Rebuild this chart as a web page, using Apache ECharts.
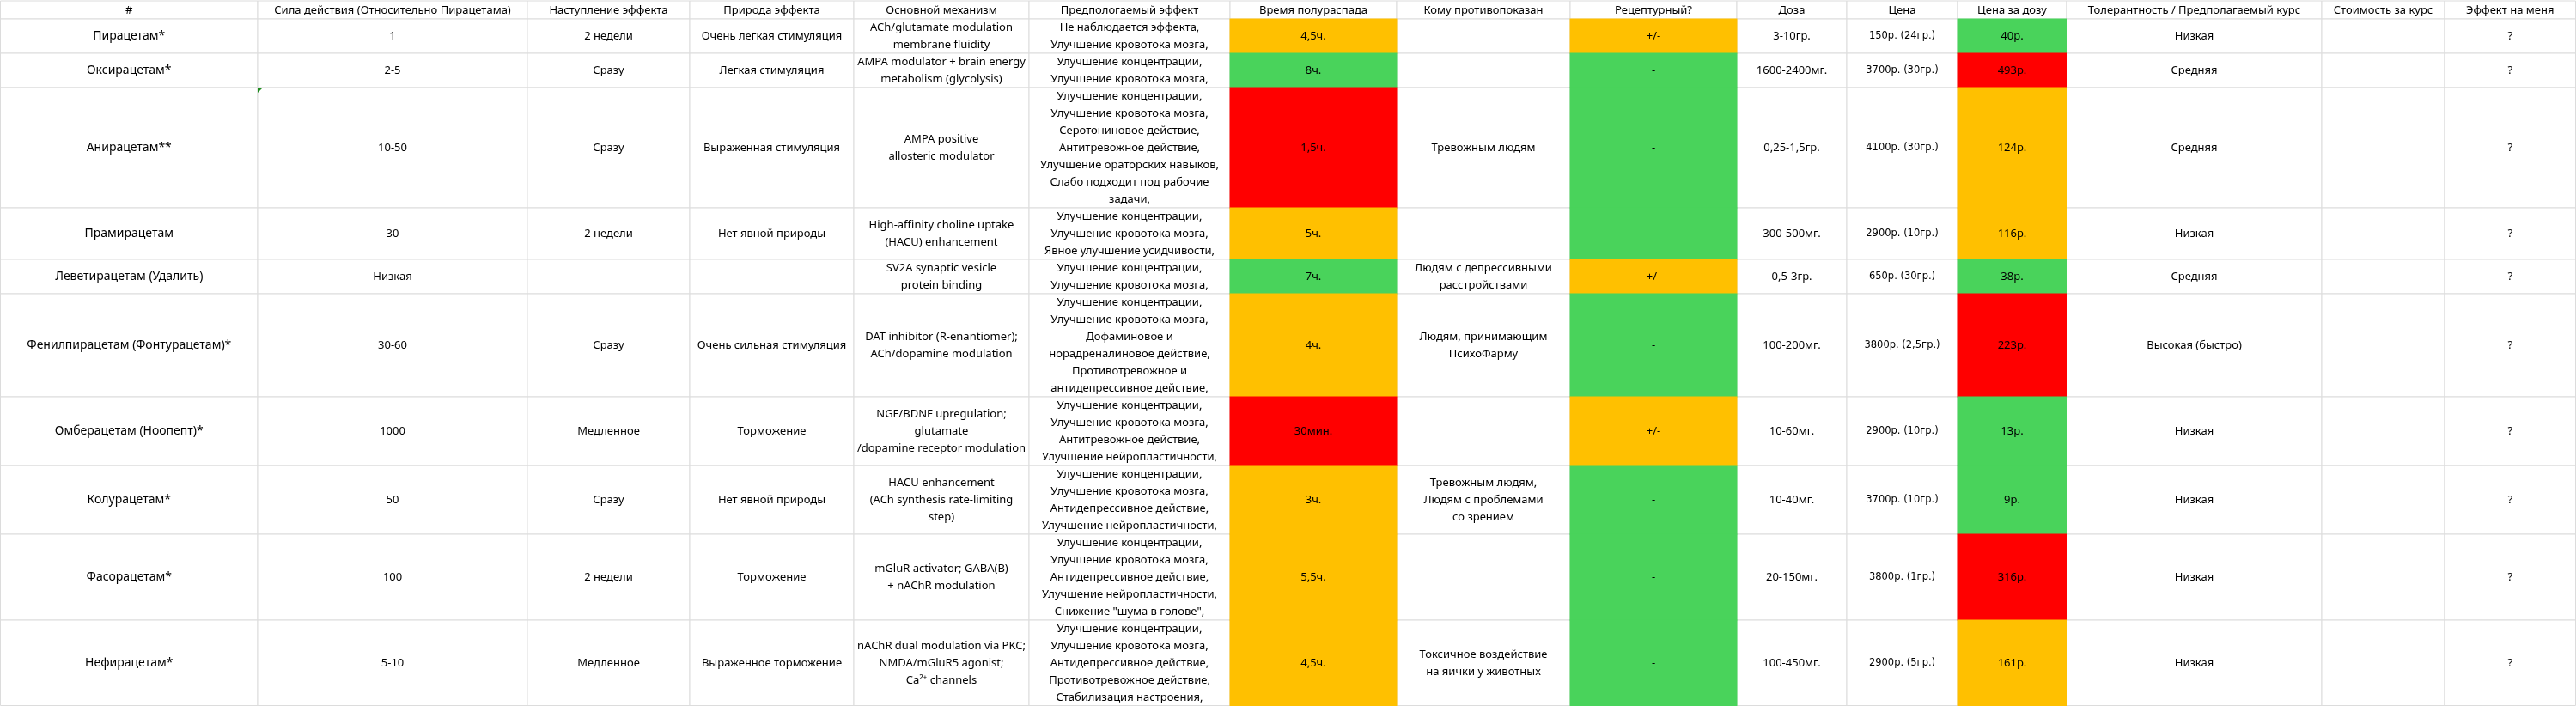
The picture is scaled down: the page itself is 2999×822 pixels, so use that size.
<!DOCTYPE html>
<html>
<head>
<meta charset="utf-8">
<title>Рацетамы</title>
<script src="https://cdn.jsdelivr.net/npm/echarts@6/dist/echarts.min.js"></script>
<style>
  html, body { margin: 0; padding: 0; background: #fff; }
  #tableDiv { width: 2999px; height: 822px; }
</style>
</head>
<body>
<div id="tableDiv"></div>
<script>
// заголовки столбцов
var headers = ['#', 'Сила действия (Относительно Пирацетама)', 'Наступление эффекта', 'Природа эффекта',
  'Основной механизм', 'Предпологаемый эффект', 'Время полураспада', 'Кому противопоказан',
  'Рецептурный?', 'Доза', 'Цена', 'Цена за дозу', 'Толерантность / Предполагаемый курс',
  'Стоимость за курс', 'Эффект на меня'];

var names = ['Пирацетам*', 'Оксирацетам*', 'Анирацетам**', 'Прамирацетам', 'Леветирацетам (Удалить)',
  'Фенилпирацетам (Фонтурацетам)*', 'Омберацетам (Ноопепт)*', 'Колурацетам*', 'Фасорацетам*', 'Нефирацетам*'];

var potency = ['1', '2-5', '10-50', '30', 'Низкая', '30-60', '1000', '50', '100', '5-10'];

var onset = ['2 недели', 'Сразу', 'Сразу', '2 недели', '-', 'Сразу', 'Медленное', 'Сразу', '2 недели', 'Медленное'];

var nature = ['Очень легкая стимуляция', 'Легкая стимуляция', 'Выраженная стимуляция', 'Нет явной природы', '-',
  'Очень сильная стимуляция', 'Торможение', 'Нет явной природы', 'Торможение', 'Выраженное торможение'];

var mechanism = [
  'ACh/glutamate modulation\nmembrane fluidity',
  'AMPA modulator + brain energy\nmetabolism (glycolysis)',
  'AMPA positive\nallosteric modulator',
  'High-affinity choline uptake\n(HACU) enhancement',
  'SV2A synaptic vesicle\nprotein binding',
  'DAT inhibitor (R-enantiomer);\nACh/dopamine modulation',
  'NGF/BDNF upregulation;\nglutamate\n/dopamine receptor modulation',
  'HACU enhancement\n(ACh synthesis rate-limiting\nstep)',
  'mGluR activator; GABA(B)\n+ nAChR modulation',
  'nAChR dual modulation via PKC;\nNMDA/mGluR5 agonist;\nCa\u00B2\u207A channels'
];

var effects = [
  'Не наблюдается эффекта,\nУлучшение кровотока мозга,',
  'Улучшение концентрации,\nУлучшение кровотока мозга,',
  'Улучшение концентрации,\nУлучшение кровотока мозга,\nСеротониновое действие,\nАнтитревожное действие,\nУлучшение ораторских навыков,\nСлабо подходит под рабочие\nзадачи,',
  'Улучшение концентрации,\nУлучшение кровотока мозга,\nЯвное улучшение усидчивости,',
  'Улучшение концентрации,\nУлучшение кровотока мозга,',
  'Улучшение концентрации,\nУлучшение кровотока мозга,\nДофаминовое и\nнорадреналиновое действие,\nПротивотревожное и\nантидепрессивное действие,',
  'Улучшение концентрации,\nУлучшение кровотока мозга,\nАнтитревожное действие,\nУлучшение нейропластичности,',
  'Улучшение концентрации,\nУлучшение кровотока мозга,\nАнтидепрессивное действие,\nУлучшение нейропластичности,',
  'Улучшение концентрации,\nУлучшение кровотока мозга,\nАнтидепрессивное действие,\nУлучшение нейропластичности,\nСнижение "шума в голове",',
  'Улучшение концентрации,\nУлучшение кровотока мозга,\nАнтидепрессивное действие,\nПротивотревожное действие,\nСтабилизация настроения,'
];

var halfLife = ['4,5ч.', '8ч.', '1,5ч.', '5ч.', '7ч.', '4ч.', '30мин.', '3ч.', '5,5ч.', '4,5ч.'];
var halfLifeLevel = ['o', 'g', 'r', 'o', 'g', 'o', 'r', 'o', 'o', 'o'];

var contra = ['', '', 'Тревожным людям', '', 'Людям с депрессивными\nрасстройствами', 'Людям, принимающим\nПсихоФарму',
  '', 'Тревожным людям,\nЛюдям с проблемами\nсо зрением', '', 'Токсичное воздействие\nна яички у животных'];

var prescription = ['+/-', '-', '-', '-', '+/-', '-', '+/-', '-', '-', '-'];
var prescriptionLevel = ['o', 'g', 'g', 'g', 'o', 'g', 'o', 'g', 'g', 'g'];

var dose = ['3-10гр.', '1600-2400мг.', '0,25-1,5гр.', '300-500мг.', '0,5-3гр.', '100-200мг.', '10-60мг.', '10-40мг.', '20-150мг.', '100-450мг.'];

var price = ['150р. (24гр.)', '3700р. (30гр.)', '4100р. (30гр.)', '2900р. (10гр.)', '650р. (30гр.)',
  '3800р. (2,5гр.)', '2900р. (10гр.)', '3700р. (10гр.)', '3800р. (1гр.)', '2900р. (5гр.)'];

var pricePerDose = ['40р.', '493р.', '124р.', '116р.', '38р.', '223р.', '13р.', '9р.', '316р.', '161р.'];
var pricePerDoseLevel = ['g', 'r', 'o', 'o', 'g', 'r', 'g', 'g', 'r', 'o'];

var tolerance = ['Низкая', 'Средняя', 'Средняя', 'Низкая', 'Средняя', 'Высокая (быстро)', 'Низкая', 'Низкая', 'Низкая', 'Низкая'];

var courseCost = ['', '', '', '', '', '', '', '', '', ''];

var effectOnMe = ['?', '?', '?', '?', '?', '?', '?', '?', '?', '?'];

// ячейки с примечанием (зелёный уголок)
var commentCells = [[1, 3]];

// раскладка таблицы: границы столбцов и строк в пикселях листа
var colEdges = [0.5, 300, 614, 803, 994, 1198, 1432, 1626, 1828, 2022, 2150, 2279, 2406, 2703, 2846, 2998.5];
var rowEdges = [1, 22, 62, 102, 242, 302, 342, 462, 542, 622, 722, 821.5];

var levelColors = { o: '#FFC000', g: '#49D35B', r: '#FF0000' };
var gridColor = '#DCDCDC';
var baseFont = '13px "Noto Sans", sans-serif';
var nameFont = '14px "Noto Sans", sans-serif';
var priceFont = '11.5px "DejaVu Sans", sans-serif';

var columns = [names, potency, onset, nature, mechanism, effects, halfLife, contra,
  prescription, dose, price, pricePerDose, tolerance, courseCost, effectOnMe];
var columnLevels = { 6: halfLifeLevel, 8: prescriptionLevel, 11: pricePerDoseLevel };

// белые ячейки сначала, цветные поверх, чтобы закрыть линии сетки
var plainCells = [];
var colorCells = [];
for (var c = 0; c < columns.length; c++) {
  plainCells.push([c, 0, headers[c], '']);
  for (var r = 0; r < columns[c].length; r++) {
    var lv = columnLevels[c] ? columnLevels[c][r] : '';
    var cell = [c, r + 1, columns[c][r], lv];
    if (lv) {
      colorCells.push(cell);
    } else {
      plainCells.push(cell);
    }
  }
}
var cells = plainCells.concat(colorCells);

function hasComment(c, r) {
  for (var i = 0; i < commentCells.length; i++) {
    if (commentCells[i][0] === c && commentCells[i][1] === r) return true;
  }
  return false;
}

function renderCell(params, api) {
  var cell = cells[params.dataIndex];
  var c = cell[0], r = cell[1];
  var p0 = api.coord([colEdges[c], rowEdges[r]]);
  var p1 = api.coord([colEdges[c + 1], rowEdges[r + 1]]);
  var x = p0[0], y = p0[1], w = p1[0] - p0[0], h = p1[1] - p0[1];
  var children = [];

  if (cell[3]) {
    children.push({
      type: 'rect',
      shape: { x: x - 0.5, y: y - 0.5, width: w + 1, height: h + 1 },
      style: { fill: levelColors[cell[3]] }
    });
  } else {
    children.push({
      type: 'rect',
      shape: { x: x, y: y, width: w, height: h },
      style: { fill: '#fff', stroke: gridColor, lineWidth: 1 }
    });
  }

  var font = baseFont;
  if (r > 0 && c === 0) font = nameFont;
  if (r > 0 && c === 10) font = priceFont;

  children.push({
    type: 'text',
    style: {
      text: cell[2],
      x: x + w / 2,
      y: y + h / 2 + 0.5,
      align: 'center',
      verticalAlign: 'middle',
      font: font,
      lineHeight: 20,
      fill: '#000'
    }
  });

  if (hasComment(c, r)) {
    children.push({
      type: 'polygon',
      shape: { points: [[x, y], [x + 6, y], [x, y + 6]] },
      style: { fill: '#1E8C1E' }
    });
  }

  return { type: 'group', children: children };
}

var myChart = echarts.init(document.getElementById('tableDiv'));

var option = {
  backgroundColor: '#fff',
  animation: false,
  grid: { left: 0, right: 0, top: 0, bottom: 0 },
  xAxis: { type: 'value', min: 0, max: 2999, show: false },
  yAxis: { type: 'value', min: 0, max: 822, inverse: true, show: false },
  series: [{
    type: 'custom',
    silent: true,
    renderItem: renderCell,
    data: cells.map(function (d) { return [d[0], d[1]]; })
  }]
};

myChart.setOption(option);
</script>
</body>
</html>
